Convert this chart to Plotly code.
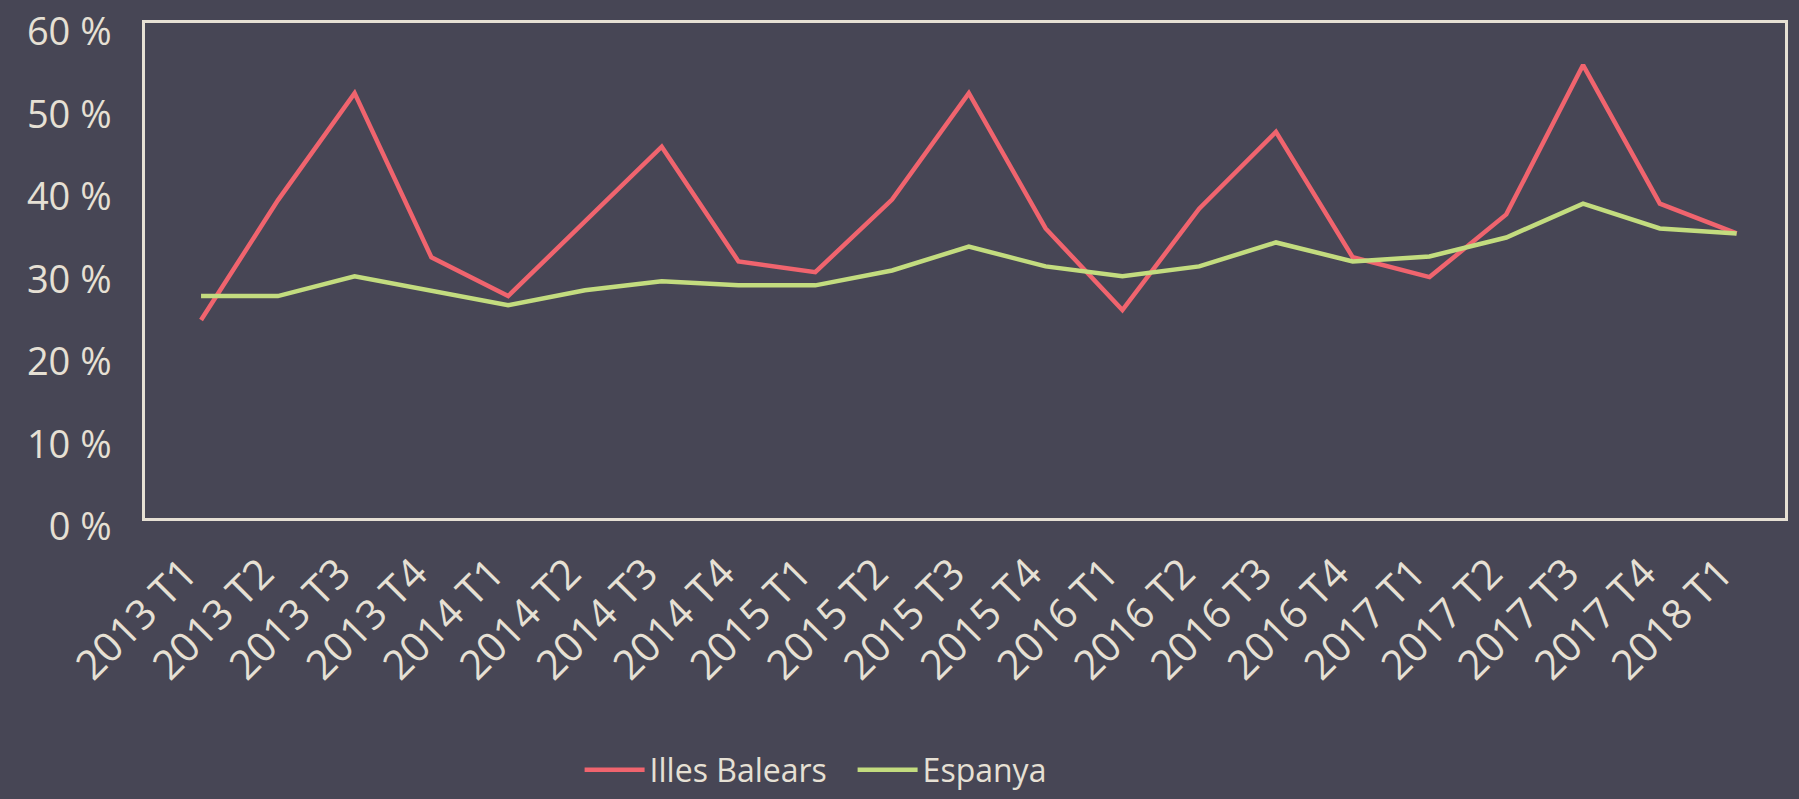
import plotly.graph_objects as go

categories = ["2013 T1", "2013 T2", "2013 T3", "2013 T4", "2014 T1", "2014 T2", "2014 T3", "2014 T4",
              "2015 T1", "2015 T2", "2015 T3", "2015 T4", "2016 T1", "2016 T2", "2016 T3", "2016 T4",
              "2017 T1", "2017 T2", "2017 T3", "2017 T4", "2018 T1"]
illes_balears = [24.0, 38.5, 51.5, 31.6, 26.9, 36.0, 45.0, 31.1, 29.8, 38.6, 51.5, 35.1,
                 25.2, 37.5, 46.8, 31.6, 29.2, 36.8, 54.9, 38.1, 34.5]
espanya = [26.9, 26.9, 29.3, 27.6, 25.8, 27.6, 28.7, 28.2, 28.2, 30.0, 32.9, 30.5,
           29.3, 30.5, 33.4, 31.1, 31.7, 34.0, 38.1, 35.1, 34.5]
y_ticks = [0, 10, 20, 30, 40, 50, 60]
y_tick_labels = ["0\u00a0%", "10\u00a0%", "20\u00a0%", "30\u00a0%", "40\u00a0%", "50\u00a0%", "60\u00a0%"]

BG = "#474655"
TXT = "#e6e0d4"
RED = "#f0646e"
GREEN = "#c3dc7f"

fig = go.Figure()
fig.add_trace(go.Scatter(x=categories, y=illes_balears, mode="lines", name="Illes Balears",
                         line=dict(color=RED, width=4.5)))
fig.add_trace(go.Scatter(x=categories, y=espanya, mode="lines", name="Espanya",
                         line=dict(color=GREEN, width=4.5)))

fig.update_layout(
    width=1799, height=799,
    paper_bgcolor=BG, plot_bgcolor=BG,
    margin=dict(l=145, r=14, t=23, b=281, autoexpand=False),
    font=dict(family="Open Sans", color=TXT, size=36),
    showlegend=True,
    legend=dict(orientation="h", x=0.265, xanchor="left", y=-0.509, yanchor="middle",
                font=dict(family="Open Sans", size=32, color=TXT, weight=500),
                itemwidth=60, entrywidth=198, entrywidthmode="pixels",
                bgcolor="rgba(0,0,0,0)"),
)
fig.update_xaxes(type="category", range=[-0.73, 20.63], tickangle=-45, automargin=False,
                 showline=True, linecolor=TXT, linewidth=2.5, mirror=True,
                 showgrid=False, zeroline=False, ticks="", ticklabelstandoff=12,
                 ticklabelshift=-16,
                 tickfont=dict(family="Open Sans", size=41, color=TXT, weight=500))
fig.update_yaxes(range=[0, 60], tickvals=y_ticks, ticktext=y_tick_labels, automargin=False,
                 showline=True, linecolor=TXT, linewidth=2.5, mirror=True,
                 showgrid=False, zeroline=False, ticks="", ticklabelstandoff=23,
                 ticklabelshift=9, ticklabeloverflow="allow",
                 tickfont=dict(family="Open Sans", size=38, color=TXT, weight=500))

fig.write_html(
    "out.html",
    config={"displayModeBar": False},
    post_script="document.body.style.margin='0';document.body.style.overflow='hidden';"
                "document.body.style.background='" + BG + "';",
)
